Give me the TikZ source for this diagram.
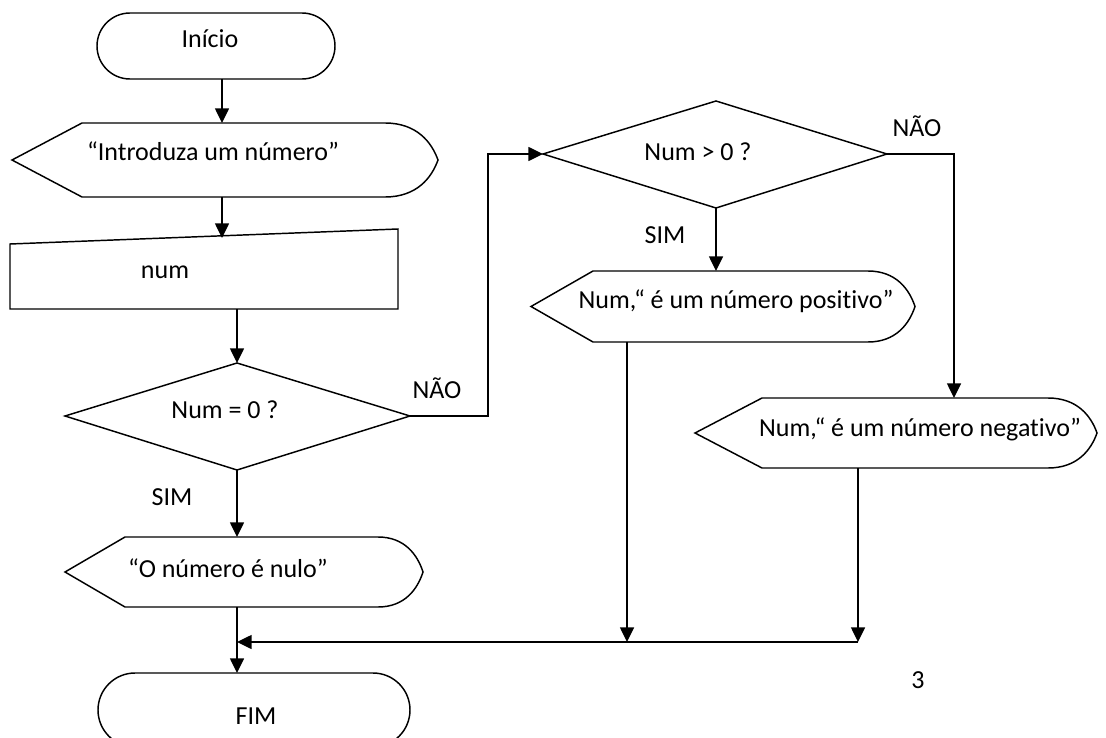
\documentclass[tikz,border=0pt]{standalone}
\usepackage{fontspec}
\setmainfont{Carlito}[Ligatures=NoCommon]
\usetikzlibrary{arrows.meta}

% display shape: pointed left end, straight top/bottom, rounded right end
% #1 left tip x, #2 top-left x, #3 curve start x, #4 right tip x, #5 top y, #6 bottom y
\newcommand{\dispshape}[6]{%
  \draw[shapeline] (#1,{(#5+#6)/2}) -- (#2,#5) -- (#3,#5)
    .. controls ({#3+0.6*(#4-#3)},#5) and ({#4-0.12*(#4-#3)},{(#5+#6)/2-0.24*(#6-#5)}) .. (#4,{(#5+#6)/2})
    .. controls ({#4-0.12*(#4-#3)},{(#5+#6)/2+0.24*(#6-#5)}) and ({#3+0.6*(#4-#3)},#6) .. (#3,#6)
    -- (#2,#6) -- cycle;}

\begin{document}
\begin{tikzpicture}[x=0.75pt,y=-0.75pt,
  shapeline/.style={line width=1.1pt, line join=miter},
  flow/.style={line width=1.1pt, -{Triangle[length=11pt,width=10.5pt]}},
  txt/.style={inner sep=0pt, font=\fontsize{19.5}{23}\selectfont}]

\fill[white] (0,0) rectangle (1106,738);
\useasboundingbox (0,0) rectangle (1106,738);

% terminals
\draw[shapeline, rounded corners=24.75pt] (97,13) rectangle (335,79);
\begin{scope}
  \clip (0,0) rectangle (1106,738);
  \draw[shapeline, rounded corners=27.75pt] (98,673) rectangle (410,747);
\end{scope}

% output / display shapes
\dispshape{12}{82}{385}{438}{123}{197}
\dispshape{531}{593}{868}{915}{271}{342}
\dispshape{695}{762}{1048}{1097}{398}{468}
\dispshape{65}{125}{378}{423}{537}{607}

% manual input
\draw[shapeline] (10,244) -- (398,229) -- (398,309) -- (10,309) -- cycle;

% decisions
\draw[shapeline] (65,416) -- (237,363) -- (410,416) -- (237,470) -- cycle;
\draw[shapeline] (543,154) -- (716,101) -- (887,154) -- (716,208) -- cycle;

% texts
\node[txt] (tstart) at (210,39) {Início};
\node[txt] (tintro) at (213,151) {“Introduza um número”};
\node[txt] (tnum) at (165,272) {num};
\node[txt] (tq1) at (225,410) {Num = 0 ?};
\node[txt] (tq2) at (698,152) {Num > 0 ?};
\node[txt] (tpos) at (736,301) {Num,“ é um número positivo”};
\node[txt] (tneg) at (920,429) {Num,“ é um número negativo”};
\node[txt] (tnulo) at (228,568) {“O número é nulo”};
\node[txt] (tfim) at (256,716) {FIM};
\node[txt] (lnao1) at (437,388) {NÃO};
\node[txt] (lsim1) at (172,497) {SIM};
\node[txt] (lnao2) at (917,126) {NÃO};
\node[txt] (lsim2) at (665,235) {SIM};
\node[txt] (pgnum) at (918,680) {3};

% connection points
\coordinate (startB) at (222,79);
\coordinate (introT) at (222,123);
\coordinate (introB) at (222,197);
\coordinate (manT) at (222,238);
\coordinate (manB) at (237,309);
\coordinate (d1T) at (237,363);
\coordinate (d1R) at (410,416);
\coordinate (d1B) at (237,470);
\coordinate (n1a) at (488,416);
\coordinate (n1b) at (488,154);
\coordinate (d2L) at (543,154);
\coordinate (d2R) at (887,154);
\coordinate (d2B) at (716,208);
\coordinate (n2a) at (954,154);
\coordinate (posT) at (716,271);
\coordinate (posB) at (627,342);
\coordinate (negT) at (954,398);
\coordinate (negB) at (858,468);
\coordinate (nuloT) at (237,537);
\coordinate (nuloB) at (237,607);
\coordinate (fimT) at (237,673);
\coordinate (jpos) at (627,642);
\coordinate (jneg) at (858,642);
\coordinate (jmain) at (237,642);

% connectors
\draw[flow] (startB) -- (introT);
\draw[flow] (introB) -- (manT);
\draw[flow] (manB) -- (d1T);
\draw[flow] (d1R) -- (n1a) -- (n1b) -- (d2L);
\draw[flow] (d2B) -- (posT);
\draw[flow] (d2R) -- (n2a) -- (negT);
\draw[flow] (d1B) -- (nuloT);
\draw[flow] (nuloB) -- (fimT);
\draw[flow] (posB) -- (jpos);
\draw[flow] (negB) -- (jneg);
\draw[flow] (jneg) -- (jmain);

\end{tikzpicture}
\end{document}
